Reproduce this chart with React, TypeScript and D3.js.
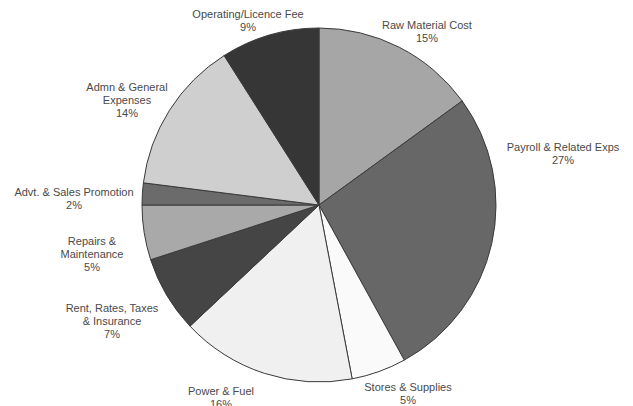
import React from "react";
import * as d3 from "d3";

const categories = [
  "Raw Material Cost",
  "Payroll & Related Exps",
  "Stores & Supplies",
  "Power & Fuel",
  "Rent, Rates, Taxes & Insurance",
  "Repairs & Maintenance",
  "Advt. & Sales Promotion",
  "Admn & General Expenses",
  "Operating/Licence Fee",
];
const values = [15, 27, 5, 16, 7, 5, 2, 14, 9];
const labelLines = [
  ["Raw Material Cost"],
  ["Payroll & Related Exps"],
  ["Stores & Supplies"],
  ["Power & Fuel"],
  ["Rent, Rates, Taxes", "& Insurance"],
  ["Repairs &", "Maintenance"],
  ["Advt. & Sales Promotion"],
  ["Admn & General", "Expenses"],
  ["Operating/Licence Fee"],
];
const fills = [
  "#a6a6a6",
  "#676767",
  "#fafafa",
  "#f0f0f0",
  "#454545",
  "#a9a9a9",
  "#6b6b6b",
  "#cfcfcf",
  "#363636",
];
// label anchor (x, y of the first line)
const labelPos: [number, number][] = [
  [427, 25],
  [563, 147],
  [408, 387],
  [221, 391],
  [112, 308],
  [92, 241],
  [74, 192],
  [127, 87],
  [248, 14],
];

const App = () => {
  const width = 633;
  const height = 406;
  const cx = 319;
  const cy = 205;
  const r = 177;

  const pie = d3
    .pie<number>()
    .sort(null)
    .value((d) => d)
    .startAngle(0)
    .endAngle(2 * Math.PI);
  const arcs = pie(values);
  const arc = d3.arc<d3.PieArcDatum<number>>().innerRadius(0).outerRadius(r);

  return (
    <svg
      width={width}
      height={height}
      style={{ position: "absolute", left: 0, top: 0, background: "#fff" }}
    >
      <g transform={`translate(${cx},${cy})`}>
        {arcs.map((a, i) => (
          <path
            key={categories[i]}
            d={arc(a) || ""}
            fill={fills[i]}
            stroke="#3a3a3a"
            strokeWidth={1}
          />
        ))}
      </g>
      {categories.map((c, i) => {
        const lines = [...labelLines[i], `${values[i]}%`];
        const [x, y] = labelPos[i];
        return (
          <text
            key={c}
            x={x}
            y={y}
            textAnchor="middle"
            fontFamily="Liberation Sans, Arial, sans-serif"
            fontSize={11}
            fill="#4a4a4a"
          >
            {lines.map((l, j) => (
              <tspan key={j} x={x} y={y + j * 13} dy="0.35em">
                {l}
              </tspan>
            ))}
          </text>
        );
      })}
    </svg>
  );
};

export default App;
